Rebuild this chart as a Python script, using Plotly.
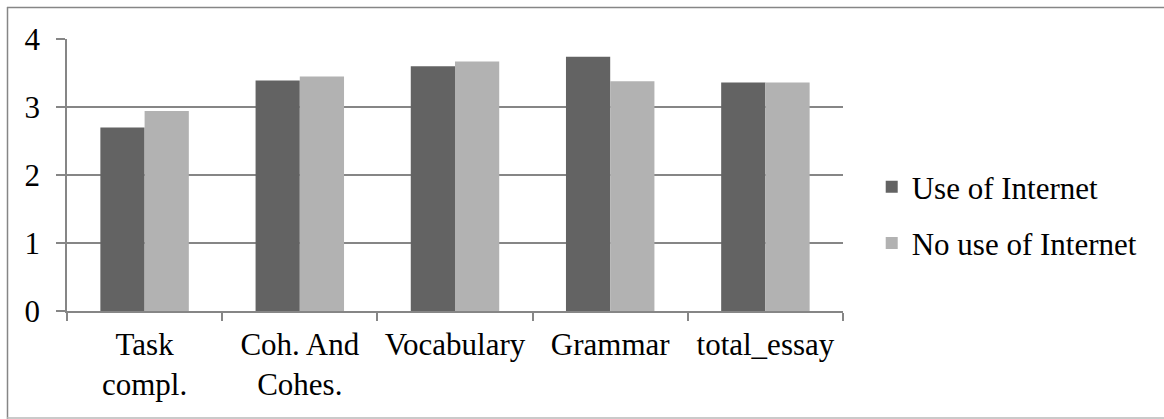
import plotly.graph_objects as go

categories = ["Task<br>compl.", "Coh. And<br>Cohes.", "Vocabulary", "Grammar", "total_essay"]
use_internet = [2.70, 3.39, 3.60, 3.74, 3.36]
no_use_internet = [2.94, 3.45, 3.67, 3.38, 3.36]
series_names = ["Use of Internet", "No use of Internet"]
y_ticks = [0, 1, 2, 3, 4]

W, H = 1164, 419
L, R, T, B = 67, 321, 39, 108
pw, ph = W - L - R, H - T - B

FONT = "Liberation Serif"

fig = go.Figure()
fig.add_trace(go.Bar(x=categories, y=use_internet, name=series_names[0],
                     marker=dict(color="#636363", line=dict(width=0)),
                     legendgroup="a"))
fig.add_trace(go.Bar(x=categories, y=no_use_internet, name=series_names[1],
                     marker=dict(color="#b2b2b2", line=dict(width=0)),
                     legendgroup="b"))

def px_x(p):
    return (p - L) / pw

def px_y(p):
    return (H - B - p) / ph

shapes = [
    dict(type="line", xref="paper", yref="paper", x0=px_x(7), x1=px_x(1170), y0=px_y(7.5), y1=px_y(7.5),
         line=dict(color="#868686", width=1.5)),
    dict(type="line", xref="paper", yref="paper", x0=px_x(7.5), x1=px_x(7.5), y0=px_y(7), y1=px_y(425),
         line=dict(color="#868686", width=1.5)),
    dict(type="line", xref="paper", yref="paper", x0=px_x(7), x1=px_x(1170), y0=px_y(418), y1=px_y(418),
         line=dict(color="#b8b8b8", width=1.5)),
]

fig.update_layout(
    width=W, height=H,
    margin=dict(l=L, r=R, t=T, b=B, pad=0),
    paper_bgcolor="white", plot_bgcolor="white",
    barmode="group", bargap=0.43, bargroupgap=0,
    font=dict(family=FONT, size=31, color="black"),
    showlegend=True,
    legend=dict(x=1.037, y=px_y(215), xanchor="left", yanchor="middle",
                font=dict(family=FONT, size=31, color="black"),
                traceorder="grouped", tracegroupgap=13,
                bgcolor="rgba(0,0,0,0)", itemwidth=30),
    shapes=shapes,
    xaxis=dict(showline=True, linecolor="#868686", linewidth=1.5,
               ticks="outside", ticklen=8, tickcolor="#868686", tickwidth=1.5,
               tickson="boundaries", showgrid=False, ticklabelstandoff=5,
               tickfont=dict(family=FONT, size=31, color="black"),
               fixedrange=True),
    yaxis=dict(range=[0, 4], tickvals=y_ticks, showline=True, linecolor="#868686", linewidth=1.5,
               ticks="outside", ticklen=9, tickcolor="#868686", tickwidth=1.5,
               showgrid=True, gridcolor="#868686", gridwidth=1.5, zeroline=False,
               ticklabelstandoff=10,
               tickfont=dict(family=FONT, size=31, color="black"),
               fixedrange=True),
)

fig.write_html("out.html", config={"displayModeBar": False},
               post_script="document.body.style.margin='0';document.body.style.padding='0';document.body.style.overflow='hidden';")
